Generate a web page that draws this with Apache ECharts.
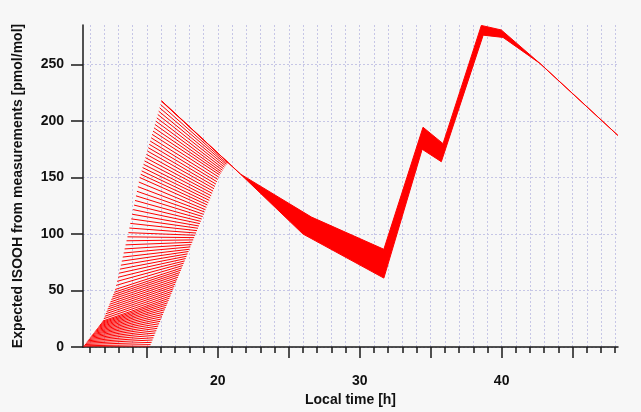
<!DOCTYPE html>
<html>
<head>
<meta charset="utf-8">
<script src="https://cdn.jsdelivr.net/npm/echarts@6/dist/echarts.min.js"></script>
<style>
html,body{margin:0;padding:0;background:#f7f7f7;}
#chart{width:641px;height:412px;}
</style>
</head>
<body>
<div id="chart"></div>
<script>
// ---- data ----
// hatched family: each line runs from (start time, start value) to (end time, end value)
const hatchStartTime = [10.5,10.567,10.633,10.7,10.767,10.833,10.9,10.967,11.033,11.1,11.167,11.233,11.3,11.367,11.433,11.5,11.567,11.633,11.7,11.767,11.833,11.9,11.967,12.033,12.1,12.167,12.233,12.3,12.367,12.433,12.5,12.567,12.633,12.7,12.767,12.833,12.9,12.967,13.033,13.1,13.167,13.233,13.3,13.367,13.433,13.5,13.567,13.633,13.7,13.767,13.833,13.9,13.967,14.033,14.1,14.167,14.233,14.3,14.367,14.433,14.5,14.567,14.633,14.7,14.767,14.833,14.9,14.967,15.033,15.1,15.167,15.233,15.3,15.367,15.433,15.5,15.567,15.633,15.7,15.767,15.833,15.9,15.967,16.033];
const hatchStartValue = [0,1.1,2.2,3.3,4.4,5.5,6.6,7.7,8.8,9.9,11.0,12.0,13.1,14.2,15.3,16.4,17.5,18.6,19.7,20.8,21.9,23.0,25.1,27.2,29.4,31.5,33.6,35.7,37.8,39.9,42.1,44.2,46.3,48.4,50.9,54.5,58.1,61.7,65.3,68.9,72.4,76.0,79.6,83.2,86.8,90.4,94.0,97.5,101.2,105.3,109.4,113.4,117.5,121.6,125.6,129.7,133.8,137.8,141.9,146.0,150.0,152.9,155.9,158.8,161.7,164.7,167.6,170.5,173.5,176.4,179.4,182.3,185.2,188.2,191.1,194.0,197.0,199.9,202.8,205.8,208.7,211.7,214.6,217.5];
const hatchEndTime = [15.2,15.267,15.333,15.4,15.467,15.533,15.6,15.667,15.733,15.8,15.867,15.933,16.0,16.067,16.133,16.2,16.267,16.333,16.4,16.467,16.533,16.6,16.667,16.733,16.8,16.867,16.933,17.0,17.067,17.133,17.2,17.267,17.333,17.4,17.467,17.533,17.6,17.667,17.733,17.8,17.867,17.933,18.0,18.067,18.133,18.2,18.267,18.333,18.4,18.467,18.533,18.6,18.667,18.733,18.8,18.867,18.933,19.0,19.067,19.133,19.2,19.267,19.333,19.4,19.467,19.533,19.6,19.667,19.733,19.8,19.867,19.933,20.0,20.067,20.133,20.2,20.267,20.333,20.4,20.467,20.533,20.6,20.667,20.733];
const hatchEndValue = [0,2.1,4.1,6.2,8.2,10.3,12.4,14.4,16.5,18.5,20.6,22.7,24.7,26.8,28.8,30.9,33.0,35.0,37.1,39.1,41.2,43.3,45.3,47.4,49.4,51.5,53.6,55.6,57.7,59.7,61.8,63.9,65.9,68.0,70.0,72.1,74.2,76.2,78.3,80.3,82.4,84.5,86.5,88.6,90.6,92.7,94.8,96.8,98.9,100.9,103.0,105.1,107.1,109.2,111.2,113.3,115.4,117.4,119.5,121.5,123.6,125.7,127.7,129.8,131.8,133.9,136.0,138.0,140.1,142.1,144.2,146.3,148.3,150.4,152.3,153.7,155.0,156.4,157.8,159.2,160.5,161.6,162.4,163.1];

// dense band: upper and lower envelopes
const bandUpperTime  = [16.04, 21.6, 26.6, 31.7, 34.46, 35.87, 38.57, 39.98, 42.7, 48.19];
const bandUpperValue = [217.8, 153, 115, 86.5, 194.5, 180, 284.6, 280.6, 251, 187.3];
const bandLowerTime  = [21.6, 26.0, 31.7, 34.4, 35.75, 38.7, 40.1, 42.7];
const bandLowerValue = [153, 100, 61, 175, 164, 276, 274, 251];

// axes
const xHourTicks = [11,12,13,14,15,16,17,18,19,20,21,22,23,24,25,26,27,28,29,30,31,32,33,34,35,36,37,38,39,40,41,42,43,44,45,46,47,48];
const xMajorTicks = [15,20,25,30,35,40,45];
const xLabels = [20,30,40];
const yTicks = [0,50,100,150,200,250];

// ---- chart ----
const FONT = '"Liberation Sans", Arial, Helvetica, sans-serif';
const RED = '#ff0000';
const AXIS = '#1a1a1a';
const GRIDC = '#c6c6e6';

const nHatch = Math.min(hatchStartTime.length, hatchStartValue.length, hatchEndTime.length, hatchEndValue.length);
const hatchRows = [];
for (let i = 0; i < nHatch; i++) {
  hatchRows.push([hatchStartTime[i], hatchStartValue[i], hatchEndTime[i], hatchEndValue[i]]);
}
const bandPoints = bandUpperTime.map((t, i) => [t, bandUpperValue[i]])
  .concat(bandLowerTime.map((t, i) => [t, bandLowerValue[i]]).reverse());

const chart = echarts.init(document.getElementById('chart'), null, {renderer: 'canvas'});
chart.setOption({
  backgroundColor: '#f7f7f7',
  animation: false,
  grid: {left: 83, right: 23, top: 25, bottom: 55, containLabel: false},
  xAxis: [{
    type: 'value', min: 10.5, max: 48.2, position: 'bottom',
    name: 'Local time [h]', nameLocation: 'middle', nameGap: 46,
    nameTextStyle: {fontFamily: FONT, fontWeight: 'bold', fontSize: 14, color: '#111', verticalAlign: 'top'},
    axisLine: {show: true, lineStyle: {color: AXIS, width: 1.5}},
    axisTick: {show: true, customValues: xHourTicks, length: 6, inside: false, lineStyle: {color: AXIS, width: 1.5}},
    axisLabel: {show: true, customValues: xLabels, margin: 27, fontFamily: FONT, fontWeight: 'bold', fontSize: 14, color: '#111'},
    splitLine: {show: true, lineStyle: {color: GRIDC, width: 1, type: [2, 2]}}
  }, {
    type: 'value', min: 10.5, max: 48.2, position: 'bottom', offset: 0,
    axisLine: {show: false},
    axisTick: {show: true, customValues: xMajorTicks, length: 11, lineStyle: {color: AXIS, width: 1.5}},
    axisLabel: {show: false},
    splitLine: {show: false}
  }],
  yAxis: {
    type: 'value', min: 0, max: 285,
    name: 'Expected ISOOH from measurements [pmol/mol]', nameLocation: 'middle', nameGap: 58, nameRotate: 90,
    nameTextStyle: {fontFamily: FONT, fontWeight: 'bold', fontSize: 14, color: '#111'},
    axisLine: {show: true, lineStyle: {color: AXIS, width: 1.5}},
    axisTick: {show: true, customValues: yTicks, length: 12, lineStyle: {color: AXIS, width: 1.5}},
    axisLabel: {show: true, customValues: yTicks, margin: 19, fontFamily: FONT, fontWeight: 'bold', fontSize: 14, color: '#111'},
    splitLine: {show: true, lineStyle: {color: GRIDC, width: 1, type: [2, 2]}}
  },
  series: [{
    type: 'custom',
    name: 'hatch',
    xAxisIndex: 0,
    clip: true,
    encode: {x: [0, 2], y: [1, 3]},
    data: hatchRows,
    renderItem: function (params, api) {
      const p0 = api.coord([api.value(0), api.value(1)]);
      const p1 = api.coord([api.value(2), api.value(3)]);
      return {type: 'line', shape: {x1: p0[0], y1: p0[1], x2: p1[0], y2: p1[1]},
        style: {stroke: RED, lineWidth: 1, fill: null}};
    }
  }, {
    type: 'custom',
    name: 'band',
    xAxisIndex: 0,
    clip: true,
    encode: {x: 0, y: 1},
    data: [bandPoints[0]],
    renderItem: function (params, api) {
      const pts = bandPoints.map(p => api.coord(p));
      return {type: 'polygon', shape: {points: pts},
        style: {fill: RED, stroke: RED, lineWidth: 1, lineJoin: 'miter'}};
    }
  }]
});
</script>
</body>
</html>
